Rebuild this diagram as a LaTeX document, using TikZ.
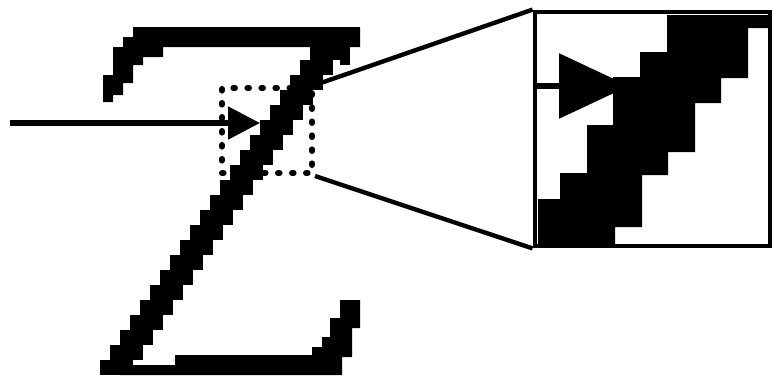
\documentclass[tikz,border=0pt]{standalone}
\usepackage{tikz}
\usetikzlibrary{arrows.meta, positioning}

\begin{document}
\begin{tikzpicture}[
    x=0.5pt, y=-0.5pt,
    pixel/.style={fill=black},
    window/.style={draw, line width=3pt, line cap=round, dash pattern=on 0.8pt off 6.2pt,
                   minimum width=45pt, minimum height=42.5pt, inner sep=0pt},
    magbox/.style={draw, line width=2.4pt, minimum width=117.5pt,
                   minimum height=117pt, inner sep=0pt},
    guide/.style={line width=2.2pt},
    ray/.style={-{Triangle[length=16pt, width=16pt]}, line width=2.6pt},
    bigray/.style={-{Triangle[length=35pt, width=32pt]}, line width=3pt}
  ]
    \useasboundingbox (0,0) rectangle (773,387);

    \node[window] (win) at (267,130.5) {};

    % the pixelated letter
    \fill[pixel] (133,27) -- (360,27) -- (360,47) -- (163,47) -- (163,57) -- (143,57)
        -- (143,65) -- (133,65) -- (133,83) -- (123,83) -- (123,95) -- (113,95)
        -- (113,102) -- (103,102) -- (103,75) -- (113,75) -- (113,47) -- (123,47)
        -- (123,37) -- (133,37) -- cycle;
    \foreach \i in {0,...,21}
        \fill[pixel] (310-10*\i,45+15*\i) rectangle ++(33,15);
    \fill[pixel] (340,45) rectangle (350,65);
    \fill[pixel] (120,365) -- (175,365) -- (175,355) -- (312,355) -- (312,347)
        -- (322,347) -- (322,337) -- (330,337) -- (330,318) -- (340,318) -- (340,300)
        -- (360,300) -- (360,328) -- (352,328) -- (352,357) -- (342,357) -- (342,375)
        -- (120,375) -- cycle;

    % magnified view
    \fill[pixel] (667,15) -- (770,15) -- (770,28) -- (748,28) -- (748,78) -- (721,78)
        -- (721,103) -- (695,103) -- (695,152) -- (668,152) -- (668,175) -- (642,175)
        -- (642,227) -- (615,227) -- (615,245) -- (538,245) -- (538,199) -- (560,199)
        -- (560,173) -- (587,173) -- (587,125) -- (613,125) -- (613,77) -- (640,77)
        -- (640,52) -- (667,52) -- cycle;
    \node[magbox] (mag) at (652.5,129) {};

    \draw[guide] (win.north east) -- (mag.north west);
    \draw[guide] (win.south east) -- (mag.south west);

    \coordinate (src) at (10,123);
    \coordinate (hit) at (260,123);
    \draw[ray] (src) -- (hit);

    \coordinate (maghit) at (629,86);
    \draw[bigray] (mag.west |- maghit) -- (maghit);
\end{tikzpicture}
\end{document}
